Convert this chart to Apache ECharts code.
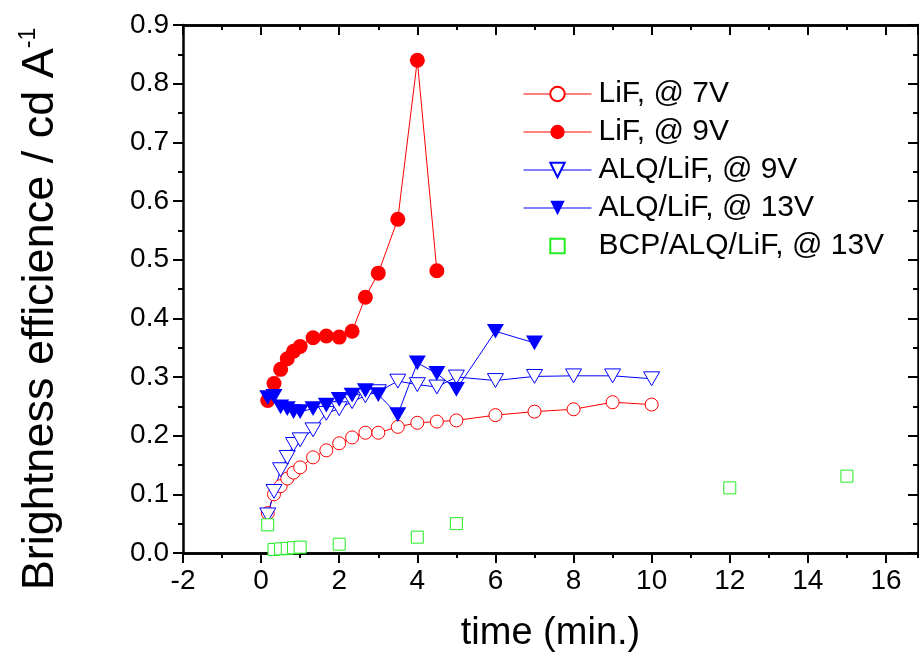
<!DOCTYPE html>
<html><head><meta charset="utf-8">
<script src="https://cdn.jsdelivr.net/npm/echarts@6/dist/echarts.min.js"></script>
<style>html,body{margin:0;padding:0;background:#fff}#c{width:919px;height:660px}</style>
</head><body><div id="c"></div>
<script>
const tA = [0.17,0.33,0.5,0.67,0.83,1,1.33,1.67,2,2.33,2.67,3,3.5,4,4.5,5,6,7,8,9,10];
const lif7V = [0.068,0.1,0.114,0.127,0.137,0.146,0.163,0.175,0.187,0.197,0.205,0.205,0.215,0.222,0.224,0.226,0.235,0.241,0.245,0.257,0.253];
const alq9V = [0.065,0.105,0.142,0.163,0.185,0.193,0.21,0.238,0.246,0.258,0.268,0.275,0.293,0.287,0.283,0.3,0.294,0.301,0.302,0.302,0.297];
const tB = [0.17,0.33,0.5,0.67,0.83,1,1.33,1.67,2,2.33,2.67,3,3.5,4,4.5];
const lif9V = [0.26,0.289,0.313,0.331,0.344,0.352,0.367,0.37,0.368,0.378,0.436,0.477,0.569,0.84,0.481];
const tC = [0.17,0.33,0.5,0.67,0.83,1,1.33,1.67,2,2.33,2.67,3,3.5,4,4.5,5,6,7];
const alq13V = [0.265,0.267,0.249,0.246,0.241,0.241,0.246,0.252,0.262,0.269,0.277,0.27,0.236,0.324,0.306,0.279,0.378,0.358];
const tD = [0.17,0.33,0.5,0.67,0.83,1,2,4,5,12,15];
const bcp13V = [0.048,0.006,0.007,0.008,0.009,0.01,0.015,0.027,0.05,0.111,0.131];
const seriesNames = ['LiF, @ 7V','LiF, @ 9V','ALQ/LiF, @ 9V','ALQ/LiF, @ 13V','BCP/ALQ/LiF, @ 13V'];
const xTitle = 'time (min.)';
const yTitle = 'Brightness efficience / cd A';
const ySup = '-1';

const FF = '"Liberation Sans", Arial, sans-serif';
const pair = (xs, ys) => xs.map((x, i) => [x, ys[i]]);
const tri = 'path://M0,0L10,0L5,8.66Z';
const XMIN = -2, XMAX = 16.82;
const axLine = {show: true, onZero: false, lineStyle: {color: '#000', width: 2.5}};

function xAx(pos, interval, tickLen, inside, labels, extra) {
  return Object.assign({
    type: 'value', position: pos, min: XMIN, max: XMAX, interval: interval,
    axisLine: axLine, splitLine: {show: false},
    axisTick: {show: true, inside: inside, length: tickLen, lineStyle: {color: '#000', width: 2}},
    axisLabel: labels ? {show: true, fontSize: 28, color: '#000', fontFamily: FF, margin: 14, showMaxLabel: false,
      formatter: v => (Math.abs(v - Math.round(v)) < 1e-6 ? String(Math.round(v)) : '')} : {show: false}
  }, extra || {});
}

const option = {
  animation: false,
  backgroundColor: '#fff',
  grid: {left: 183, top: 25, right: 1, bottom: 107},
  xAxis: [
    xAx('bottom', 2, 10, false, true, {name: xTitle, nameLocation: 'middle', nameGap: 62,
      nameTextStyle: {fontSize: 38, color: '#000', fontFamily: FF}}),
    xAx('bottom', 1, 5, false, false),
    xAx('top', 2, 10, true, false),
    xAx('top', 1, 5, true, false)
  ],
  yAxis: [
    {type: 'value', position: 'left', min: 0, max: 0.9, interval: 0.1,
     axisLine: axLine, splitLine: {show: false},
     axisTick: {show: true, inside: false, length: 10, lineStyle: {color: '#000', width: 2}},
     minorTick: {show: true, splitNumber: 2, length: 5, lineStyle: {color: '#000', width: 2}},
     axisLabel: {fontSize: 28, color: '#000', fontFamily: FF, margin: 14, formatter: v => v.toFixed(1)},
     name: '{a|' + yTitle + '}{b|' + ySup + '}', nameLocation: 'middle', nameRotate: 90, nameGap: 118,
     nameTextStyle: {color: '#000', fontFamily: FF, padding: [0, 40, 0, 0], rich: {
       a: {fontSize: 45, color: '#000', fontFamily: FF, lineHeight: 48},
       b: {fontSize: 23, color: '#000', fontFamily: FF, verticalAlign: 'top', lineHeight: 48}
     }}},
    {type: 'value', position: 'right', min: 0, max: 0.9, interval: 0.1,
     axisLine: axLine, splitLine: {show: false},
     axisTick: {show: true, inside: true, length: 10, lineStyle: {color: '#000', width: 2}},
     minorTick: {show: true, splitNumber: 2, length: 5, lineStyle: {color: '#000', width: 2}},
     axisLabel: {show: false}}
  ],
  legend: {
    orient: 'vertical', left: 518, top: 74, itemWidth: 68, itemHeight: 18, itemGap: 8,
    textStyle: {fontSize: 30, color: '#000', fontFamily: FF, lineHeight: 30, padding: [0, 0, 0, 2]},
    lineStyle: {width: 1},
    data: seriesNames
  },
  series: [
    {name: seriesNames[0], type: 'line', data: pair(tA, lif7V), symbol: 'circle', symbolSize: 13,
     itemStyle: {color: '#fff', borderColor: '#ff0000', borderWidth: 1},
     lineStyle: {color: '#ff0000', width: 1}},
    {name: seriesNames[1], type: 'line', data: pair(tB, lif9V), symbol: 'circle', symbolSize: 15,
     itemStyle: {color: '#ff0000', borderColor: '#ff0000', borderWidth: 0},
     lineStyle: {color: '#ff0000', width: 1}},
    {name: seriesNames[2], type: 'line', data: pair(tA, alq9V), symbol: tri, symbolSize: 16, symbolKeepAspect: true,
     itemStyle: {color: '#fff', borderColor: '#0000ff', borderWidth: 1},
     lineStyle: {color: '#0000ff', width: 1}},
    {name: seriesNames[3], type: 'line', data: pair(tC, alq13V), symbol: tri, symbolSize: 17, symbolKeepAspect: true,
     itemStyle: {color: '#0000ff', borderColor: '#0000ff', borderWidth: 0},
     lineStyle: {color: '#0000ff', width: 1}},
    {name: seriesNames[4], type: 'line', data: pair(tD, bcp13V), symbol: 'rect', symbolSize: 12,
     itemStyle: {color: '#fff', borderColor: '#22ee22', borderWidth: 1},
     lineStyle: {color: '#22ee22', width: 0, opacity: 0}}
  ]
};
echarts.init(document.getElementById('c'), null, {renderer: 'canvas'}).setOption(option);
</script>
</body></html>
